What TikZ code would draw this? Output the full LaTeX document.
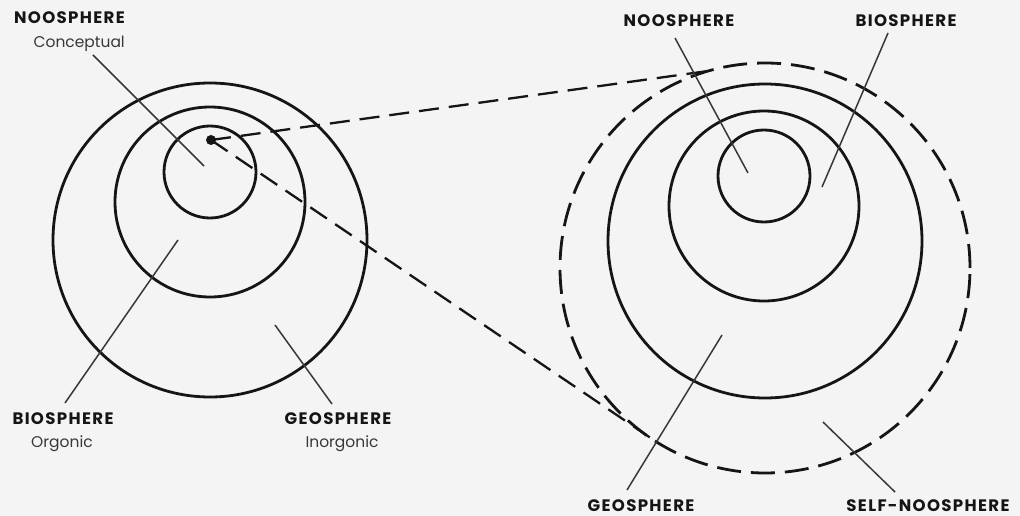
\documentclass[tikz,border=0pt]{standalone}
\usepackage{fontspec}
\setmainfont{Poppins}
\newfontfamily\capsfont[LetterSpace=8]{Poppins}
\usetikzlibrary{calc}
\definecolor{paper}{HTML}{F4F4F4}
\definecolor{ink}{HTML}{151515}
\begin{document}
\begin{tikzpicture}[x=1pt,y=-1pt,
  ring/.style={circle,draw=ink,line width=2.8pt,inner sep=0pt,outer sep=0pt},
  dring/.style={ring,dash pattern=on 24pt off 10pt},
  ray/.style={draw=ink,line width=2.3pt,dash pattern=on 20pt off 10pt},
  leader/.style={draw=ink!85,line width=1.5pt},
  lblmain/.style={font=\capsfont\fontsize{16.6}{18}\selectfont\bfseries,text=ink,inner sep=0pt},
  lblsub/.style={font=\fontsize{15.5}{17}\selectfont,text=ink!85,inner sep=0pt}]
\fill[paper] (0,0) rectangle (1020,516);
\useasboundingbox (0,0) rectangle (1020,516);
% left spheres
\node[ring,minimum size=92pt] (l1) at (210,172) {};
\node[ring,minimum size=190pt] (l2) at (210,202) {};
\node[ring,minimum size=314pt] (l3) at (210,240) {};
% right spheres
\node[ring,minimum size=92pt] (r1) at (764,176) {};
\node[ring,minimum size=190pt] (r2) at (764,206) {};
\node[ring,minimum size=314pt] (r3) at (765,241) {};
\node[dring,minimum size=410pt] (d) at (765,268) {};
% dot and rays
\node[circle,fill=ink,inner sep=0pt,minimum size=10pt] (dot) at (211,140) {};
\draw[ray] (dot.center) -- (d.106.4);
\draw[ray] (dot.center) -- (d.238.2);
% labels
\node[lblmain,anchor=base east] (nL) at (125,24) {NOOSPHERE};
\node[lblsub,anchor=base east] (nLs) at (125,48) {Conceptual};
\node[lblmain,anchor=base] (bL) at (63,424) {BIOSPHERE};
\node[lblsub,anchor=base] (bLs) at (62,447) {Orgonic};
\node[lblmain,anchor=base] (gL) at (338,424) {GEOSPHERE};
\node[lblsub,anchor=base] (gLs) at (342,447) {Inorgonic};
\node[lblmain,anchor=base] (nR) at (679,27) {NOOSPHERE};
\node[lblmain,anchor=base] (bR) at (906,27) {BIOSPHERE};
\node[lblmain,anchor=base] (gR) at (641,511) {GEOSPHERE};
\node[lblmain,anchor=base] (sR) at (928,511) {SELF-NOOSPHERE};
% leader ends
\coordinate (nLe) at (204,166);
\coordinate (bLe) at (178,240);
\coordinate (gLe) at (275,325);
\coordinate (nRe) at (748,173);
\coordinate (bRe) at (822,187);
\coordinate (gRe) at (722,335);
\coordinate (sRe) at (823,422);
\draw[leader] (93,55) -- (nLe);
\draw[leader] (65,403) -- (bLe);
\draw[leader] (332,404) -- (gLe);
\draw[leader] (675,38) -- (nRe);
\draw[leader] (888,33) -- (bRe);
\draw[leader] (627,490) -- (gRe);
\draw[leader] (895,492) -- (sRe);
\end{tikzpicture}
\end{document}
